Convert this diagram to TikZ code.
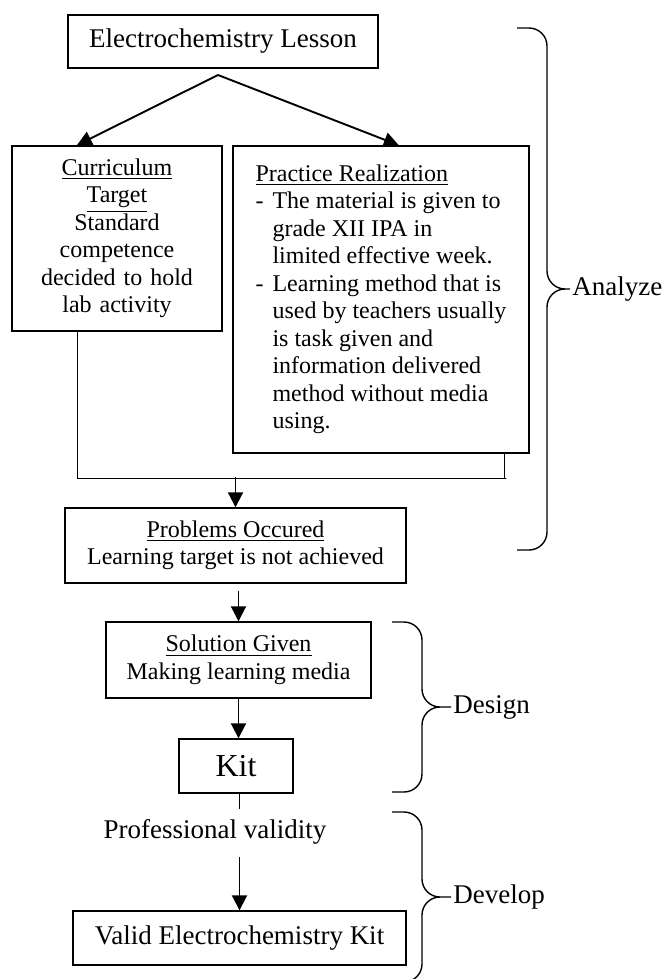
\documentclass[tikz,border=0pt]{standalone}
\usepackage{fontspec}
\setmainfont{Liberation Serif}
\usetikzlibrary{
    arrows.meta,
    positioning,
    calc
}
\newcommand{\bodyfont}{\fontsize{12}{13.75}\selectfont}
\newcommand{\bigbodyfont}{\fontsize{13.5}{15}\selectfont}
\newcommand{\pritem}[1]{\makebox[8.5pt][l]{-}#1}
\newcommand{\pricont}[1]{\hspace*{8.5pt}#1}
\tikzset{
    % --- Process box ---
    box/.style = {
        rectangle, draw, line width=0.7pt,
        inner sep=0pt, font=\bodyfont, align=center
    },
    % --- Flow arrow ---
    flow/.style = {
        -{Triangle[length=7.5pt, width=7.5pt]}, line width=0.95pt
    },
    % --- Plain joining line ---
    wire/.style = {
        line width=0.75pt
    },
    % --- Stage brace ---
    phase brace/.style = {
        rounded corners=9pt, line width=0.7pt
    },
    % --- Stage label ---
    phase/.style = {
        font=\bigbodyfont, anchor=west, inner sep=1pt
    }
}

\begin{document}
\begin{tikzpicture}[x=0.5pt, y=-0.5pt]
\useasboundingbox (0,0) rectangle (668,979);

% ---------------------------------------------------------
% Boxes
% ---------------------------------------------------------
\node[box, minimum width=155pt, minimum height=26.5pt, font=\bigbodyfont] (lesson) at (223,41.5) {Electrochemistry Lesson};

\node[box, minimum width=105pt, minimum height=92.5pt, text width=95pt] (target) at (117,238.5) {%
    \underline{Curriculum}\\
    \underline{Target}\\
    Standard\\
    competence\\
    decided to hold\\
    lab activity
};

\node[box, minimum width=148pt, minimum height=153.5pt, align=left] (practice) at (381,299.5) {%
    \underline{Practice Realization}\\
    \pritem{The material is given to}\\
    \pricont{grade XII IPA in}\\
    \pricont{limited effective week.}\\
    \pritem{Learning method that is}\\
    \pricont{used by teachers usually}\\
    \pricont{is task given and}\\
    \pricont{information delivered}\\
    \pricont{method without media}\\
    \pricont{using.}
};

\node[box, minimum width=170.5pt, minimum height=37.5pt] (problems) at (235.5,545.5) {%
    \underline{Problems Occured}\\
    Learning target is not achieved
};

\node[box, minimum width=132.5pt, minimum height=38pt] (solution) at (238.5,660) {%
    \underline{Solution Given}\\
    Making learning media
};

\node[box, minimum width=57pt, minimum height=27pt, font=\fontsize{16}{19}\selectfont] (kit) at (236,766) {Kit};

\node[font=\bigbodyfont] (validity) at (215,832) {Professional validity};

\node[box, minimum width=166.5pt, minimum height=27pt, font=\bigbodyfont] (valid) at (239.5,938) {Valid Electrochemistry Kit};

% ---------------------------------------------------------
% Lesson -> both branches
% ---------------------------------------------------------
\coordinate (split) at (218,75);
\draw[flow] (split) -- ($(target.north west)!0.31!(target.north east)$);
\draw[flow] (split) -- ($(practice.north west)!0.56!(practice.north east)$);

% ---------------------------------------------------------
% Branches joined -> problems
% ---------------------------------------------------------
\coordinate (tDrop) at ($(target.south west)!0.314!(target.south east)$);
\coordinate (pDrop) at ($(practice.south west)!0.915!(practice.south east)$);
\coordinate (join) at ($(problems.north)+(0,-30)$);
\draw[wire] (tDrop) |- ($(pDrop)+(2,25)$) -- ++(-2,0) -- (pDrop);
\draw[flow] (join) -- (problems.north);

% ---------------------------------------------------------
% Main chain
% ---------------------------------------------------------
\draw[flow, shorten <=3.5pt] (solution.north |- problems.south) -- (solution.north);
\draw[flow] (solution.south) -- (solution.south |- kit.north);
\draw[wire, line width=0.95pt] (kit.south -| valid.north) -- ++(0,15);
\draw[flow, shorten <=3pt] (validity.south -| valid.north) -- (valid.north);

% ---------------------------------------------------------
% Stage braces
% ---------------------------------------------------------
\coordinate (anaTop) at (517,28);
\coordinate (anaTip) at (570,289);
\coordinate (anaBot) at (517,550);
\draw[phase brace] (anaTop) -- ++(30,0) |- (anaTip)
    (anaTip) -| ($(anaBot)+(30,0)$) -- (anaBot);
\node[phase] (analyze) at (anaTip) {Analyze};

\coordinate (desTop) at (392,622);
\coordinate (desTip) at (451,707);
\coordinate (desBot) at (392,792);
\draw[phase brace] (desTop) -- ++(30,0) |- (desTip)
    (desTip) -| ($(desBot)+(30,0)$) -- (desBot);
\node[phase] (design) at (desTip) {Design};

\coordinate (devTop) at (392,812);
\coordinate (devTip) at (451,897);
\coordinate (devBot) at (392,982);
\draw[phase brace] (devTop) -- ++(30,0) |- (devTip)
    (devTip) -| ($(devBot)+(30,0)$) -- (devBot);
\node[phase] (develop) at (devTip) {Develop};

\end{tikzpicture}
\end{document}
